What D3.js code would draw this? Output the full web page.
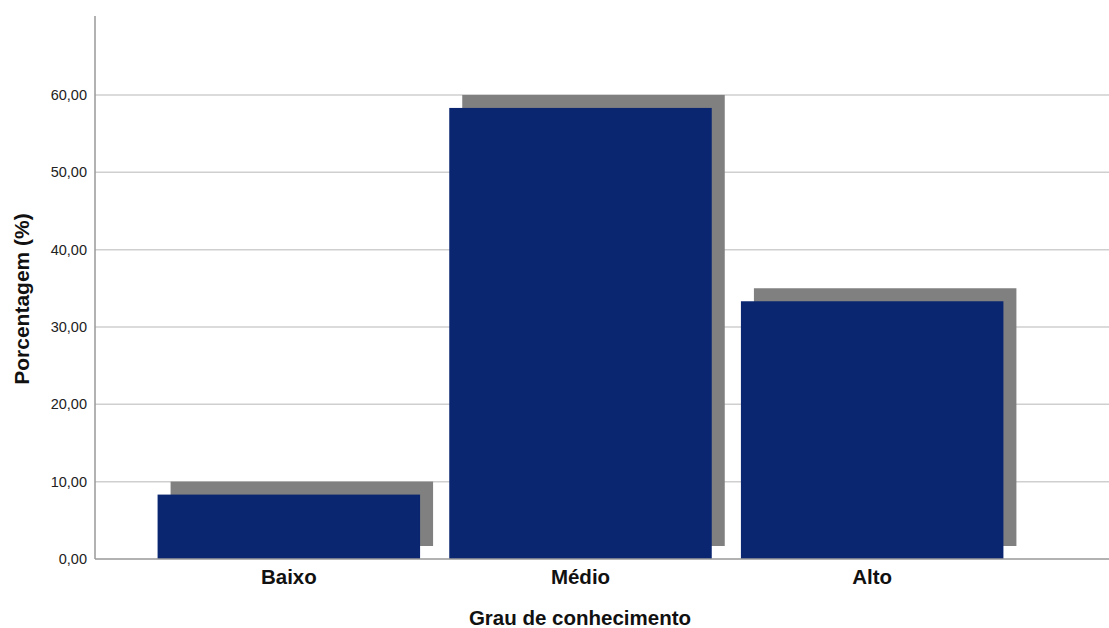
<!DOCTYPE html>
<html>
<head>
<meta charset="utf-8">
<script src="https://cdn.jsdelivr.net/npm/d3@7"></script>
<style>
  body { margin: 0; background: #fff; }
  svg { display: block; font-family: Arial, "Liberation Sans", sans-serif; }
</style>
</head>
<body>
<div id="chart"></div>
<script>
const categories = ['Baixo', 'Médio', 'Alto'];
const percentages = [8.33, 58.33, 33.33];
const yTicks = [0, 10, 20, 30, 40, 50, 60];

const width = 1109;
const height = 628;
const margin = {left: 95, right: 0, top: 16, bottom: 69};
const y0 = height - margin.bottom;  // 559
const shadowOffset = 13;

const svg = d3.select('#chart')
    .append('svg')
    .attr('width', width)
    .attr('height', height);

const y = d3.scaleLinear()
    .domain([0, 70])
    .range([y0, y0 - 70 * 7.733]);

const x = d3.scaleBand()
    .domain(categories)
    .range([143, 1018])
    .paddingInner(0.1)
    .paddingOuter(0.05);

// grid lines
svg.append('g')
    .selectAll('line')
    .data(yTicks.filter(d => d > 0))
    .enter()
    .append('line')
    .attr('x1', margin.left)
    .attr('x2', width)
    .attr('y1', d => y(d))
    .attr('y2', d => y(d))
    .attr('stroke', '#cfcfcf')
    .attr('stroke-width', 1.5);

// shadows
svg.append('g')
    .selectAll('rect')
    .data(percentages)
    .enter()
    .append('rect')
    .attr('x', (d, i) => x(categories[i]) + shadowOffset)
    .attr('y', d => y(d) - shadowOffset)
    .attr('width', x.bandwidth())
    .attr('height', d => y0 - y(d))
    .attr('fill', '#808080');

// bars
svg.append('g')
    .selectAll('rect')
    .data(percentages)
    .enter()
    .append('rect')
    .attr('x', (d, i) => x(categories[i]))
    .attr('y', d => y(d))
    .attr('width', x.bandwidth())
    .attr('height', d => y0 - y(d))
    .attr('fill', '#0a2670');

// y axis
const yAxis = d3.axisLeft(y)
    .tickValues(yTicks)
    .tickSize(0)
    .tickPadding(8)
    .tickFormat(d => d3.format('.2f')(d).replace('.', ','));

const gy = svg.append('g')
    .attr('transform', `translate(${margin.left},0)`)
    .call(yAxis);
gy.select('.domain').remove();
gy.selectAll('text')
    .attr('font-size', 14.5)
    .attr('fill', '#222');

svg.append('line')
    .attr('x1', margin.left)
    .attr('x2', margin.left)
    .attr('y1', margin.top)
    .attr('y2', y0)
    .attr('stroke', '#999')
    .attr('stroke-width', 1.5);

svg.append('line')
    .attr('x1', margin.left)
    .attr('x2', width)
    .attr('y1', y0)
    .attr('y2', y0)
    .attr('stroke', '#999')
    .attr('stroke-width', 1.5);

// x labels
const xAxis = d3.axisBottom(x).tickSize(0).tickPadding(10);
const gx = svg.append('g')
    .attr('transform', `translate(0,${y0})`)
    .call(xAxis);
gx.select('.domain').remove();
gx.selectAll('text')
    .attr('font-size', 20.5)
    .attr('font-weight', 'bold')
    .attr('fill', '#111');

// axis titles
svg.append('text')
    .attr('x', 580)
    .attr('y', 625)
    .attr('text-anchor', 'middle')
    .attr('font-size', 20.5)
    .attr('font-weight', 'bold')
    .attr('fill', '#111')
    .text('Grau de conhecimento');

svg.append('text')
    .attr('transform', 'translate(29,299) rotate(-90)')
    .attr('text-anchor', 'middle')
    .attr('font-size', 21)
    .attr('font-weight', 'bold')
    .attr('fill', '#111')
    .text('Porcentagem (%)');
</script>
</body>
</html>
